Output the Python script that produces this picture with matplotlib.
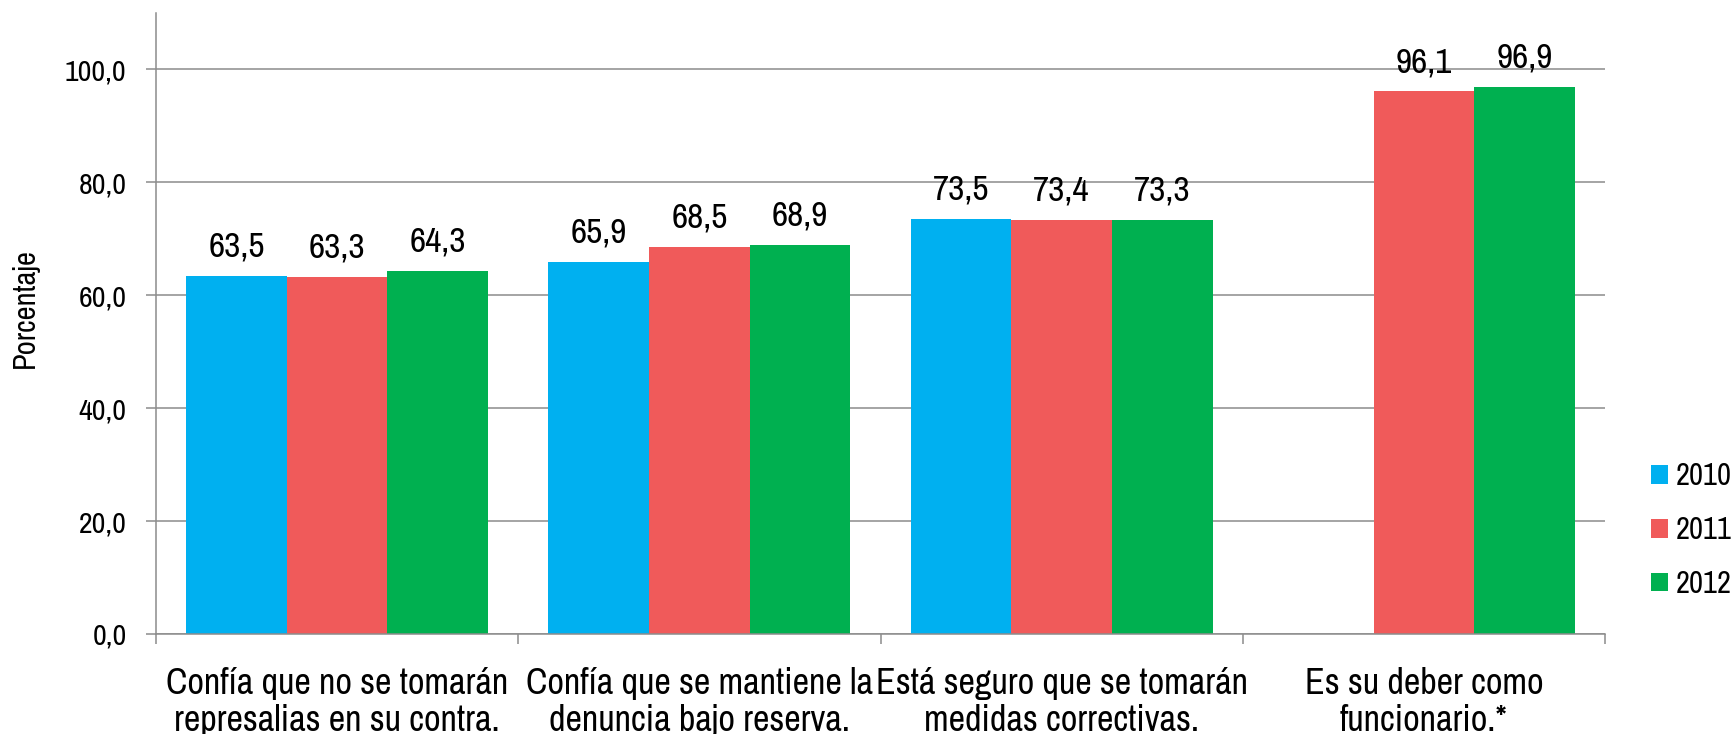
import numpy as np
import matplotlib
import matplotlib.pyplot as plt

matplotlib.use("Agg")

categories = ["Confía que no se tomarán\nrepresalias en su contra.",
              "Confía que se mantiene la\ndenuncia bajo reserva.",
              "Está seguro que se tomarán\nmedidas correctivas.",
              "Es su deber como\nfuncionario.*"]
years = ["2010", "2011", "2012"]
vals_2010 = [63.5, 65.9, 73.5, np.nan]  # no 2010 value for the last item
vals_2011 = [63.3, 68.5, 73.4, 96.1]
vals_2012 = [64.3, 68.9, 73.3, 96.9]
yticks = [0, 20, 40, 60, 80, 100]
ytick_labels = ["0,0", "20,0", "40,0", "60,0", "80,0", "100,0"]

colors = ["#00B0F0", "#F05A5A", "#00B050"]
# narrow sans like the original; plain Liberation Sans if it is missing
plt.rcParams["font.family"] = ["Archivo Narrow", "Liberation Sans", "DejaVu Sans"]

fig = plt.figure(figsize=(17.36, 7.34), dpi=100)
ax = fig.add_axes([156 / 1736, 1 - 634 / 734, (1605 - 156) / 1736, (634 - 13) / 734])

x = np.arange(len(categories))
w = 0.278
series = [vals_2010, vals_2011, vals_2012]
for i, (vals, col, yr) in enumerate(zip(series, colors, years)):
    pos = x + (i - 1) * w
    ax.bar(pos, vals, width=w, color=col, label=yr, zorder=2)
    for p, v in zip(pos, vals):
        if np.isnan(v):
            continue
        ax.annotate(f"{v:.1f}".replace(".", ","), (p, v), xytext=(0, 14),
                    textcoords="offset points", ha="center", va="baseline",
                    fontsize=25.5)

ax.set_xlim(-0.5, 3.5)
ax.set_ylim(0, 110)
ax.set_yticks(yticks)
ax.set_yticklabels(ytick_labels, fontsize=21.5)
ax.yaxis.grid(True, color="#8C8C8C", linewidth=1.1)
ax.set_axisbelow(True)

# category labels centred, ticks at the boundaries
ax.set_xticks(x)
ax.set_xticklabels(categories, fontsize=26, linespacing=1.13)
ax.set_xticks(np.arange(-0.5, 4.0, 1.0), minor=True)
ax.tick_params(axis="x", which="major", length=0, pad=24)
ax.tick_params(axis="x", which="minor", length=7.2, width=1.1, color="#8C8C8C")
ax.tick_params(axis="y", length=7.2, width=1.1, color="#8C8C8C", pad=14)

for s in ["top", "right"]:
    ax.spines[s].set_visible(False)
for s in ["left", "bottom"]:
    ax.spines[s].set_color("#8C8C8C")
    ax.spines[s].set_linewidth(1.1)

fig.text(0.006, 0.58, "Porcentaje", rotation=90, ha="left", va="center", fontsize=22)

ax.legend(loc="center left", bbox_to_anchor=(1651 / 1736, 1 - 530 / 734),
          bbox_transform=fig.transFigure, frameon=False, fontsize=22,
          handlelength=0.56, handleheight=0.56, handletextpad=0.25,
          labelspacing=0.85, borderaxespad=0, borderpad=0)

fig.savefig("out.png", dpi=100)
